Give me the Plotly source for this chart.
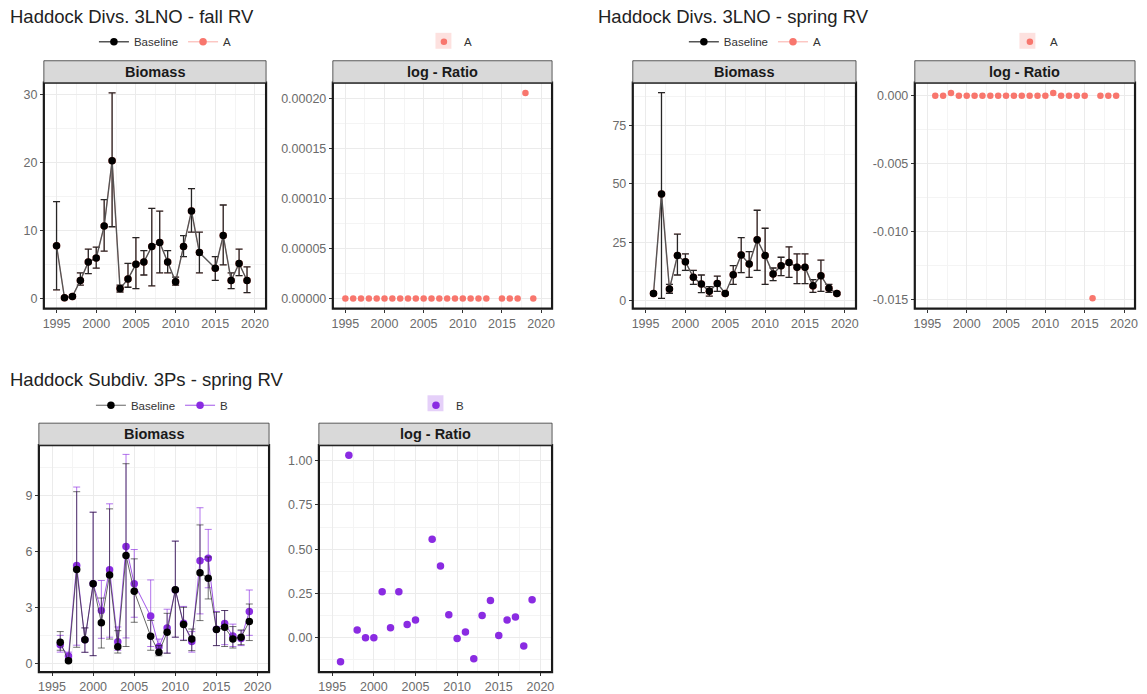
import numpy as np
import plotly.graph_objects as go

W, H = 1147, 694

# ---------------- data ----------------
fall_years = [1995, 1996, 1997, 1998, 1999, 2000, 2001, 2002, 2003, 2004, 2005, 2006,
              2007, 2008, 2009, 2010, 2011, 2012, 2013, 2015, 2016, 2017, 2018, 2019]
fall_base = [7.8, 0.15, 0.35, 2.7, 5.4, 6.0, 10.7, 20.3, 1.5, 2.9, 5.1, 5.4,
             7.7, 8.3, 5.4, 2.5, 7.7, 12.9, 6.8, 4.5, 9.3, 2.7, 5.2, 2.7]
fall_lo = [1.3, 0.05, 0.2, 2.0, 3.7, 4.5, 7.0, 10.6, 1.0, 1.7, 1.5, 3.5,
           1.9, 3.8, 3.8, 2.0, 6.2, 9.8, 3.8, 2.7, 5.0, 1.5, 3.4, 0.9]
fall_hi = [14.3, 0.3, 0.6, 3.8, 7.3, 7.6, 14.6, 30.3, 2.0, 5.2, 9.0, 7.1,
           13.3, 12.9, 7.1, 3.2, 9.3, 16.2, 9.8, 6.2, 13.8, 3.8, 7.3, 4.7]
fall_A = [7.8, 0.15, 0.35, 2.7, 5.4, 6.0, 10.7, 20.3, 1.5, 2.9, 5.1, 5.4,
          7.7, 8.3, 5.4, 2.5, 7.7, 12.9, 6.8, 4.5, 9.3, 2.7, 5.2, 2.7]
fall_logratio = [0, 0, 0, 0, 0, 0, 0, 0, 0, 0, 0, 0,
                 0, 0, 0, 0, 0, 0, 0, 0, 0, 0, 0.000206, 0]

spring_years = [1996, 1997, 1998, 1999, 2000, 2001, 2002, 2003, 2004, 2005, 2006, 2007,
                2008, 2009, 2010, 2011, 2012, 2013, 2014, 2015, 2016, 2017, 2018, 2019]
spring_base = [3.1, 45.7, 5.0, 19.3, 16.7, 10.0, 7.1, 4.0, 7.4, 3.1, 11.1, 19.6,
               15.7, 26.1, 19.3, 11.4, 15.0, 16.4, 14.3, 14.3, 6.4, 10.7, 5.3, 3.1]
spring_lo = [2.5, 1.0, 3.2, 11.0, 13.0, 7.0, 3.5, 2.0, 4.0, 2.6, 7.0, 12.0,
             10.0, 13.0, 7.0, 8.6, 10.7, 10.0, 7.3, 7.3, 3.6, 4.0, 3.6, 2.6]
spring_hi = [3.8, 89.0, 7.0, 28.5, 20.0, 13.0, 11.0, 6.0, 10.5, 3.6, 15.0, 27.0,
             21.0, 38.7, 31.0, 14.0, 18.6, 23.0, 20.0, 20.0, 9.0, 17.4, 7.0, 3.6]
spring_A = [3.1, 45.7, 5.0, 19.3, 16.7, 10.0, 7.1, 4.0, 7.4, 3.1, 11.1, 19.6,
            15.7, 26.1, 19.3, 11.4, 15.0, 16.4, 14.3, 14.3, 6.3, 10.7, 5.3, 3.1]
spring_logratio = [0, 0, 0.0002, 0, 0, 0, 0, 0, 0, 0, 0, 0,
                   0, 0, 0, 0.0002, 0, 0, 0, 0, -0.0149, 0, 0, 0]

ps_years = [1996, 1997, 1998, 1999, 2000, 2001, 2002, 2003, 2004, 2005, 2007, 2008,
            2009, 2010, 2011, 2012, 2013, 2014, 2015, 2016, 2017, 2018, 2019]
ps_base = [1.13, 0.14, 5.03, 1.27, 4.26, 2.18, 4.74, 0.89, 5.78, 3.86, 1.45, 0.59,
           1.66, 3.95, 2.08, 1.31, 4.85, 4.56, 1.81, 1.93, 1.31, 1.40, 2.24]
ps_base_lo = [0.70, 0.05, 0.86, 0.59, 0.41, 0.82, 1.30, 0.55, 0.90, 2.20, 0.70, 0.40,
              0.54, 1.40, 1.22, 0.68, 2.29, 3.45, 0.95, 0.90, 0.82, 1.00, 1.22]
ps_base_hi = [1.70, 0.25, 9.20, 1.90, 8.10, 3.50, 8.28, 1.75, 10.70, 5.60, 2.30, 0.95,
              2.68, 6.55, 3.00, 1.84, 7.42, 5.70, 2.74, 2.83, 1.97, 1.79, 3.18]
ps_B = [0.99, 0.39, 5.25, 1.27, 4.26, 2.83, 5.01, 1.15, 6.26, 4.27, 2.53, 0.89,
        1.89, 3.93, 2.15, 1.17, 5.50, 5.63, 1.83, 2.14, 1.46, 1.33, 2.78]
ps_B_lo = [0.60, 0.15, 0.97, 0.59, 0.41, 1.34, 1.40, 0.70, 1.36, 2.47, 0.90, 0.55,
           0.55, 1.40, 1.25, 0.60, 2.65, 4.05, 0.95, 1.00, 0.90, 0.95, 1.50]
ps_B_hi = [1.50, 0.60, 9.45, 1.90, 8.10, 4.44, 8.55, 1.95, 11.20, 6.10, 4.47, 1.30,
           2.90, 6.55, 3.05, 1.70, 8.34, 7.18, 2.78, 2.83, 2.10, 1.75, 3.93]
ps_logratio = [-0.136, 1.03, 0.043, 0.0, 0.0, 0.26, 0.056, 0.26, 0.075, 0.10, 0.556, 0.405,
               0.13, -0.004, 0.032, -0.118, 0.125, 0.21, 0.013, 0.10, 0.117, -0.047, 0.215]

titles = ["Haddock Divs. 3LNO - fall RV", "Haddock Divs. 3LNO - spring RV",
          "Haddock Subdiv. 3Ps - spring RV"]
strip_labels = ["Biomass", "log - Ratio"]
x_ticks = [1995, 2000, 2005, 2010, 2015, 2020]
y_ticks = {
    1: ([0, 10, 20, 30], ["0", "10", "20", "30"]),
    2: ([0, 0.00005, 0.0001, 0.00015, 0.0002],
        ["0.00000", "0.00005", "0.00010", "0.00015", "0.00020"]),
    3: ([0, 25, 50, 75], ["0", "25", "50", "75"]),
    4: ([-0.015, -0.010, -0.005, 0.0], ["-0.015", "-0.010", "-0.005", "0.000"]),
    5: ([0, 3, 6, 9], ["0", "3", "6", "9"]),
    6: ([0, 0.25, 0.5, 0.75, 1.0], ["0.00", "0.25", "0.50", "0.75", "1.00"]),
}

# ---------------- layout geometry (pixels) ----------------
panels = {
    1: dict(x=(43, 266), y=(83, 310), yr=(-1.45, 31.8)),
    2: dict(x=(333, 553), y=(83, 310), yr=(-0.0000103, 0.0002163)),
    3: dict(x=(634, 858), y=(83, 310), yr=(-3.4, 93.3)),
    4: dict(x=(917, 1138), y=(83, 310), yr=(-0.01566, 0.00096)),
    5: dict(x=(38, 269), y=(447, 675), yr=(-0.47, 11.7)),
    6: dict(x=(319, 553), y=(447, 675), yr=(-0.194, 1.088)),
}
XR = [1993.4, 2021.4]
STRIP_H = 22

RED = "#F8766D"
PURPLE = "#8A2BE2"
BLACK = "#000000"


def fx(px):
    return px / W


def fy(py):
    return 1 - py / H


fig = go.Figure()


def add_series(i, x, y, lo, hi, color, name, legend, rank,
               line_color=None, err_color=None, size=7.5, lw=1.0, ew=1.0):
    y = np.array(y, dtype=float)
    lo = np.array(lo, dtype=float)
    hi = np.array(hi, dtype=float)
    suffix = "" if i == 1 else str(i)
    fig.add_trace(go.Scatter(
        x=x, y=y, mode="lines+markers", name=name,
        xaxis="x" + suffix, yaxis="y" + suffix,
        marker=dict(color=color, size=size),
        line=dict(color=line_color or color, width=lw),
        error_y=dict(type="data", symmetric=False, array=hi - y, arrayminus=y - lo,
                     color=err_color or color, thickness=ew, width=3.5),
        legend=legend, legendrank=rank,
    ))


def add_points(i, x, y, color, name, legend, size=7):
    suffix = "" if i == 1 else str(i)
    fig.add_trace(go.Scatter(
        x=x, y=y, mode="markers", name=name,
        xaxis="x" + suffix, yaxis="y" + suffix,
        marker=dict(color=color, size=size),
        legend=legend,
    ))


# fall 3LNO
add_series(1, fall_years, fall_A, fall_lo, fall_hi, RED, "A", "legend", 2, lw=0.6, ew=0.6)
add_series(1, fall_years, fall_base, fall_lo, fall_hi, BLACK, "Baseline", "legend", 1,
           line_color="#555555", err_color="#262626", lw=1.4, ew=1.3)
add_points(2, fall_years, fall_logratio, RED, "A", "legend2", size=6.5)
# spring 3LNO
add_series(3, spring_years, spring_A, spring_lo, spring_hi, RED, "A", "legend3", 2, lw=0.6, ew=0.6)
add_series(3, spring_years, spring_base, spring_lo, spring_hi, BLACK, "Baseline", "legend3", 1,
           line_color="#555555", err_color="#262626", lw=1.4, ew=1.3)
add_points(4, spring_years, spring_logratio, RED, "A", "legend4", size=6.5)
# 3Ps spring
add_series(5, ps_years, ps_B, ps_B_lo, ps_B_hi, PURPLE, "B", "legend5", 2,
           line_color="rgba(138,43,226,0.8)", err_color="rgba(138,43,226,0.65)")
add_series(5, ps_years, ps_base, ps_base_lo, ps_base_hi, BLACK, "Baseline", "legend5", 1,
           line_color="rgba(50,50,50,0.75)", err_color="rgba(20,20,20,0.6)")
add_points(6, ps_years, ps_logratio, PURPLE, "B", "legend6", size=7.5)

GRID = "#EBEBEB"
FONT = "Liberation Sans, Arial, sans-serif"
TICKFONT = dict(family=FONT, size=12.5, color="#6B6B6B")

layout = dict(
    width=W, height=H, margin=dict(l=0, r=0, t=0, b=0),
    paper_bgcolor="white", plot_bgcolor="white",
    font=dict(family=FONT, color="#333333"),
    shapes=[], annotations=[],
)

for i, p in panels.items():
    suffix = "" if i == 1 else str(i)
    x0, x1 = p["x"]
    y0, y1 = p["y"]
    tv, tt = y_ticks[i]
    step = tv[1] - tv[0]
    minor_y = [v + step / 2 for v in tv] + [tv[0] - step / 2]
    layout["xaxis" + suffix] = dict(
        domain=[fx(x0), fx(x1)], anchor="y" + suffix, range=XR,
        tickmode="array", tickvals=x_ticks, ticktext=[str(v) for v in x_ticks],
        showgrid=True, gridcolor=GRID, gridwidth=1, zeroline=False,
        ticks="outside", ticklen=3, tickcolor="#333333", tickwidth=1,
        tickfont=TICKFONT, showline=False,
        minor=dict(tickvals=[v + 2.5 for v in x_ticks] + [x_ticks[0] - 2.5],
                   showgrid=True, gridcolor="#F4F4F4", gridwidth=0.6, ticklen=0),
    )
    layout["yaxis" + suffix] = dict(
        domain=[fy(y1), fy(y0)], anchor="x" + suffix, range=list(p["yr"]),
        tickmode="array", tickvals=tv, ticktext=tt,
        showgrid=True, gridcolor=GRID, gridwidth=1, zeroline=False,
        ticks="outside", ticklen=3, tickcolor="#333333", tickwidth=1,
        tickfont=TICKFONT, showline=False,
        minor=dict(tickvals=minor_y, showgrid=True, gridcolor="#F4F4F4",
                   gridwidth=0.6, ticklen=0),
    )
    # panel border
    layout["shapes"].append(dict(
        type="rect", xref="x" + suffix + " domain", yref="y" + suffix + " domain",
        x0=0, x1=1, y0=0, y1=1, line=dict(color="#1A1A1A", width=2.2),
        fillcolor="rgba(0,0,0,0)", layer="above"))
    # strip
    layout["shapes"].append(dict(
        type="rect", xref="paper", yref="paper",
        x0=fx(x0), x1=fx(x1), y0=fy(y0), y1=fy(y0 - STRIP_H),
        line=dict(color="#333333", width=0.8), fillcolor="#D9D9D9"))
    layout["annotations"].append(dict(
        xref="paper", yref="paper", x=fx((x0 + x1) / 2), y=fy(y0 - STRIP_H / 2),
        text="<b>%s</b>" % strip_labels[(i - 1) % 2], showarrow=False,
        font=dict(size=14.5, color="#1A1A1A"), xanchor="center", yanchor="middle"))

# titles
for t, (px, py) in zip(titles, [(7, 17), (597, 17), (7, 381)]):
    layout["annotations"].append(dict(
        xref="paper", yref="paper", x=fx(px), y=fy(py), text=t, showarrow=False,
        xanchor="left", yanchor="middle", font=dict(size=18.5, color="#222222")))

# legends
legend_pos = {"legend": (165, 42), "legend2": (451, 42), "legend3": (757, 42),
              "legend4": (1039, 42), "legend5": (162, 407), "legend6": (443, 407)}
for name, (px, py) in legend_pos.items():
    layout[name] = dict(
        x=fx(px), y=fy(py), xanchor="center", yanchor="middle", orientation="h",
        bgcolor="rgba(0,0,0,0)", font=dict(size=11.5, color="#333333"),
        itemwidth=30, traceorder="normal", tracegroupgap=0,
    )

# shaded legend keys of the ratio legends (ggplot key fill)
for (kx, ky), col in [((444, 41), "rgba(248,118,109,0.22)"),
                      ((1030, 41), "rgba(248,118,109,0.22)"),
                      ((436, 405), "rgba(138,43,226,0.22)")]:
    layout["shapes"].append(dict(
        type="rect", xref="paper", yref="paper",
        x0=fx(kx - 8), x1=fx(kx + 8), y0=fy(ky + 8), y1=fy(ky - 8),
        line=dict(width=0), fillcolor=col, layer="below"))

fig.update_layout(**layout)
fig.write_html("out.html", config={"displayModeBar": False},
               post_script="document.body.style.margin='0';")
